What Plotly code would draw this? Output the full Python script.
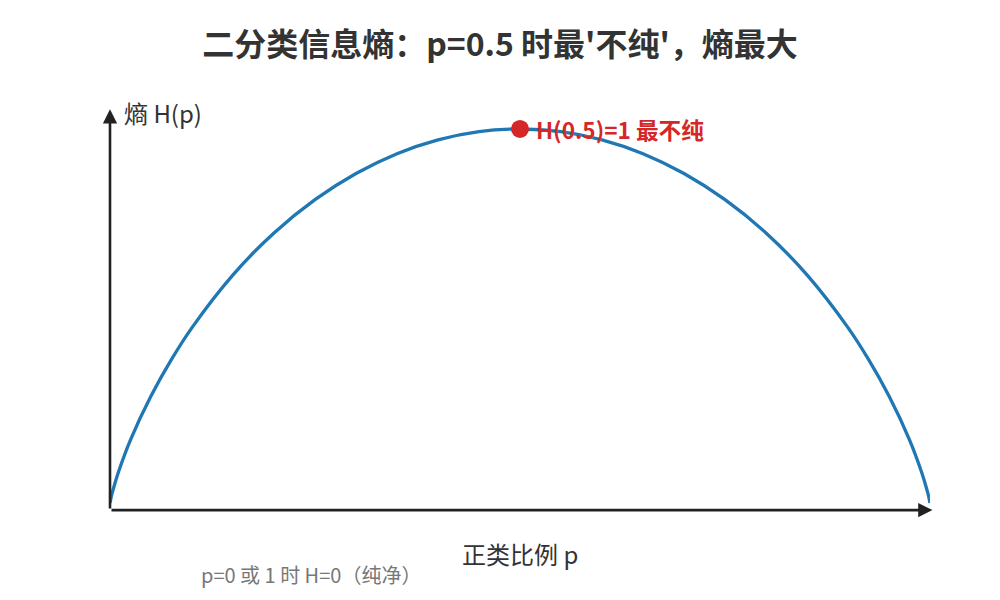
import plotly.graph_objects as go

# valores (entropia binaria)
p_vals = [0.0, 0.002, 0.005, 0.01, 0.025, 0.05, 0.075, 0.1, 0.15, 0.2, 0.25, 0.3, 0.35, 0.4, 0.45,
          0.5, 0.55, 0.6, 0.65, 0.7, 0.75, 0.8, 0.85, 0.9, 0.925, 0.95, 0.975, 0.99, 0.995, 0.998, 1.0]
h_vals = [0.0, 0.021, 0.045, 0.081, 0.169, 0.286, 0.384, 0.469, 0.610, 0.722, 0.811, 0.881, 0.934, 0.971, 0.993,
          1.0, 0.993, 0.971, 0.934, 0.881, 0.811, 0.722, 0.610, 0.469, 0.384, 0.286, 0.169, 0.081, 0.045, 0.021, 0.0]
peak_p = [0.5]
peak_h = [1.0]

FONT = "Noto Sans CJK SC"
base_y = -0.019

fig = go.Figure()
fig.add_trace(go.Scatter(x=p_vals, y=h_vals, mode='lines',
                         line=dict(color='#1f77b4', width=3.3, shape='spline'),
                         hoverinfo='skip', showlegend=False))
fig.add_trace(go.Scatter(x=peak_p, y=peak_h, mode='markers',
                         marker=dict(color='#d62728', size=18),
                         showlegend=False))

# ejes con flechas
fig.add_annotation(x=1.003, y=base_y, ax=0, ay=base_y, xref='x', yref='y', axref='x', ayref='y',
                   showarrow=True, arrowhead=2, arrowsize=1.1, arrowwidth=2.6, arrowcolor='#222', text='')
fig.add_annotation(x=0, y=1.053, ax=0, ay=base_y, xref='x', yref='y', axref='x', ayref='y',
                   showarrow=True, arrowhead=2, arrowsize=1.1, arrowwidth=2.6, arrowcolor='#222', text='')

fig.add_annotation(x=peak_p[0], y=peak_h[0], xref='x', yref='y', text='<b>H(0.5)=1 最不纯</b>',
                   showarrow=False, xanchor='left', yanchor='middle', xshift=14, yshift=-1,
                   font=dict(family=FONT, size=22.6, color='#d62728'))
fig.add_annotation(x=122, y=112, xref='paper', yref='paper', text='熵 H(p)', showarrow=False,
                   font=dict(family=FONT, size=24, color='#333'))
fig.add_annotation(x=0.5, y=553, xref='x', yref='paper', text='正类比例 p', showarrow=False,
                   font=dict(family=FONT, size=24, color='#333'))
fig.add_annotation(x=199, y=574, xref='paper', yref='paper', text='p=0 或 1 时 H=0（纯净）', showarrow=False,
                   font=dict(family=FONT, size=20, color='#777'))

fig.update_layout(
    width=1000, height=600,
    margin=dict(l=102, r=78, t=92, b=88),
    paper_bgcolor='white', plot_bgcolor='white',
    title=dict(text='<b>二分类信息熵：p=0.5 时最\'不纯\'，熵最大</b>', x=0.492, xanchor='center',
               y=0.938, yanchor='middle', font=dict(family=FONT, size=32, color='#333')),
    xaxis=dict(range=[0, 1], visible=False),
    yaxis=dict(range=[-0.0455, 1.0775], visible=False),
)

# convertir posiciones en pixeles (pagina) a coordenadas de papel
for ann in fig.layout.annotations:
    if ann.xref == 'paper':
        ann.x = (ann.x - 110) / 820
        ann.xanchor = 'left'
    if ann.yref == 'paper':
        ann.y = (520 - ann.y) / 420
        ann.yanchor = 'middle'

fig.write_html("out.html")
